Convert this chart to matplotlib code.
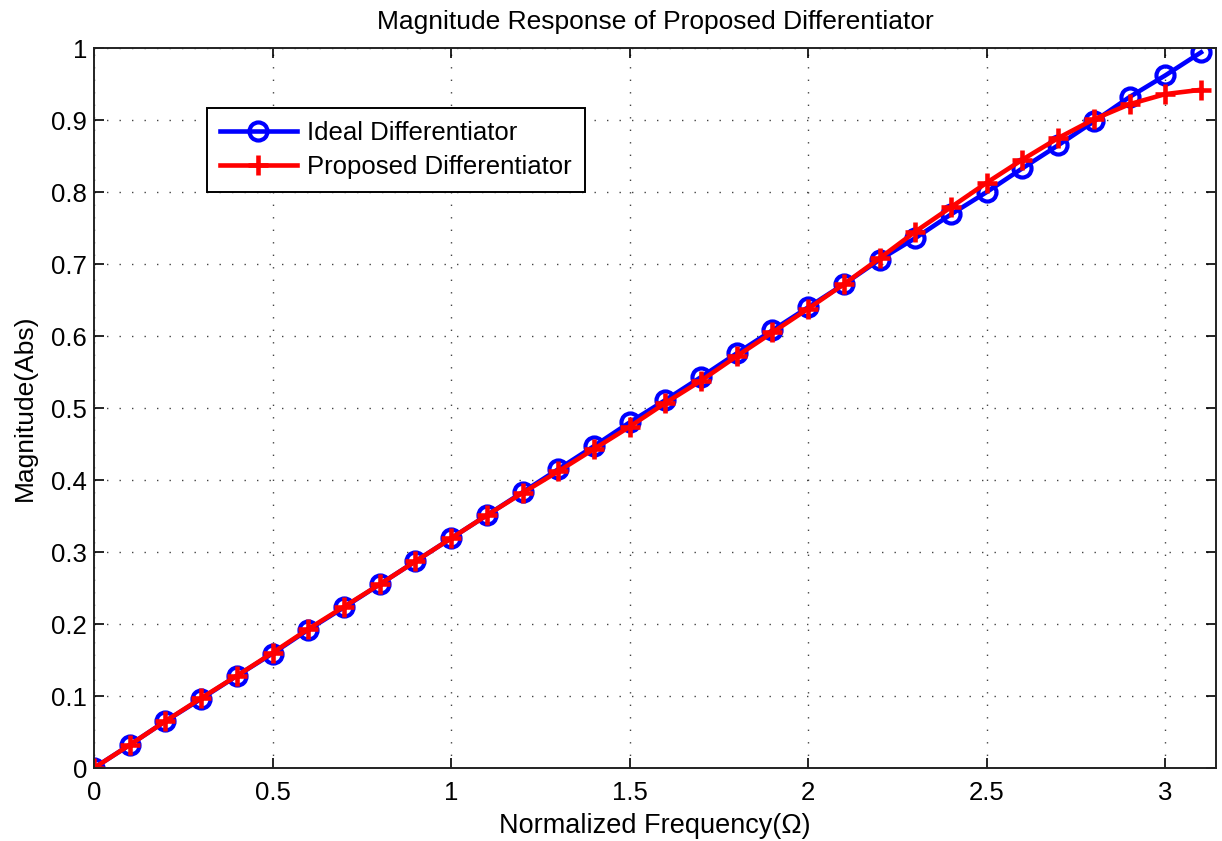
import matplotlib
matplotlib.use("Agg")
import matplotlib.pyplot as plt

plt.rcParams.update({
    "font.family": ["Liberation Sans", "DejaVu Sans"],
    "font.size": 18,
})

# ── Data ──
freq = [0.0, 0.1, 0.2, 0.3, 0.4, 0.5, 0.6, 0.7, 0.8, 0.9,
        1.0, 1.1, 1.2, 1.3, 1.4, 1.5, 1.6, 1.7, 1.8, 1.9,
        2.0, 2.1, 2.2, 2.3, 2.4, 2.5, 2.6, 2.7, 2.8, 2.9,
        3.0, 3.1]
ideal = [0.000, 0.032, 0.065, 0.096, 0.128, 0.159, 0.192, 0.223, 0.255, 0.287,
         0.319, 0.351, 0.383, 0.415, 0.447, 0.480, 0.511, 0.543, 0.576, 0.608,
         0.640, 0.672, 0.706, 0.736, 0.769, 0.800, 0.833, 0.865, 0.898, 0.932,
         0.962, 0.994]
proposed = [0.000, 0.032, 0.065, 0.097, 0.128, 0.160, 0.193, 0.224, 0.255, 0.287,
            0.319, 0.351, 0.382, 0.412, 0.443, 0.474, 0.507, 0.538, 0.572, 0.605,
            0.638, 0.672, 0.708, 0.745, 0.779, 0.813, 0.845, 0.875, 0.901, 0.922,
            0.936, 0.942]

xticks = [0, 0.5, 1, 1.5, 2, 2.5, 3]
xtick_labels = ["0", "0.5", "1", "1.5", "2", "2.5", "3"]
yticks = [0, 0.1, 0.2, 0.3, 0.4, 0.5, 0.6, 0.7, 0.8, 0.9, 1]
ytick_labels = ["0", "0.1", "0.2", "0.3", "0.4", "0.5", "0.6", "0.7", "0.8", "0.9", "1"]

fig = plt.figure(figsize=(12.22, 8.41), dpi=100)
ax = fig.add_axes([0.0769, 0.0868, 0.9181, 0.8561])

ax.plot(freq, ideal, color="#0000ff", lw=3.3, marker="o", markersize=13,
        markerfacecolor="none", markeredgewidth=3, label="Ideal Differentiator")
ax.plot(freq, proposed, color="#ff0000", lw=3.3, marker="+", markersize=14,
        markeredgewidth=3.3, label="Proposed Differentiator")

ax.set_xlim(0, 3.1416)
ax.set_ylim(0, 1)
ax.set_xticks(xticks)
ax.set_xticklabels(xtick_labels)
ax.set_yticks(yticks)
ax.set_yticklabels(ytick_labels)
ax.tick_params(direction="in", top=True, right=True, labelsize=18.5,
               length=7, width=1.2)
ax.tick_params(axis="x", pad=9)
ax.tick_params(axis="y", pad=5)
ax.grid(True, color="#444444", linestyle=(0, (1, 8)), linewidth=1.0)
for sp in ax.spines.values():
    sp.set_linewidth(1.4)
    sp.set_color("#222222")

ax.set_xlabel("Normalized Frequency(\u03a9)", fontsize=19.5, labelpad=6)
ax.set_ylabel("Magnitude(Abs)", fontsize=19, labelpad=10)
ax.set_title("Magnitude Response of Proposed Differentiator", fontsize=19, pad=14)

leg = ax.legend(loc="upper left", bbox_to_anchor=(0.1007, 0.9170), borderaxespad=0,
                fontsize=18.5, fancybox=False, framealpha=1, edgecolor="black",
                handlelength=3.0, handletextpad=0.4, borderpad=0.5, labelspacing=0.4)
leg.get_frame().set_linewidth(1.4)

fig.savefig("out.png", dpi=100, facecolor="white")
plt.close(fig)
